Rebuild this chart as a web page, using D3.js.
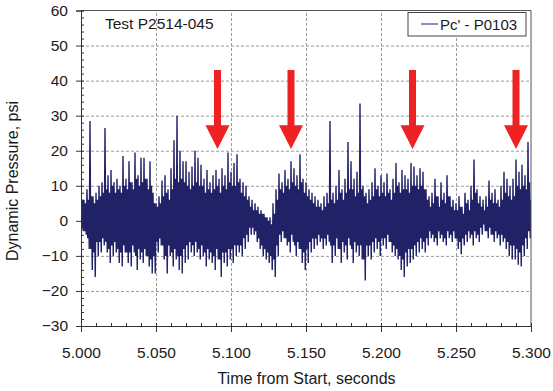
<!DOCTYPE html>
<html>
<head>
<meta charset="utf-8">
<script src="https://cdn.jsdelivr.net/npm/d3@7"></script>
<style>
body { margin: 0; background: #fff; }
text { font-family: Arial, "Liberation Sans", sans-serif; fill: #1a1a1a; }
</style>
</head>
<body>
<svg id="chart" width="553" height="391"></svg>
<script>
// one sample window every 2 ms (psi):
// peak = highest / lowest spike in the window, core = edge of the dense band
var startTime = 5.0
var sampleStep = 0.002
var peakHigh = [8, 6, 9, 28.5, 7, 8, 10,
    11, 26.5, 13, 14.5, 11, 12, 10,
    18.5, 12, 17, 11, 19.5, 13, 18, 18, 12, 17,
    8, 5, 7, 11.5, 13,
    9, 15, 23, 30, 20, 17, 17, 14, 15.5, 20, 18,
    16, 12, 14.5, 11, 13, 14.5, 12, 15, 13, 19.5, 14, 16.5, 19, 12, 11,
    10, 7, 6, 5, 4, 3, 2, 1, 1, 5,
    9, 13.5, 11, 14.5, 12, 17, 15, 13, 19,
    12, 11, 9, 8, 7, 6, 5, 7, 8, 28.5,
    8, 10, 14.5, 9, 12, 22.5, 17, 12, 14, 33.5,
    10, 8, 9, 11, 15, 10, 13, 11, 13.5, 9,
    12, 16.5, 11, 14.5, 13, 12, 16.5, 15.5, 13, 15,
    14, 9, 7, 8, 12, 7, 11, 8, 13, 7,
    6, 5, 7, 4, 8, 6, 10, 17.5, 9, 7,
    6, 7, 11.5, 8, 9, 6, 10, 14, 12, 10,
    12, 17.5, 14, 16, 13, 22.5, 6]
var peakLow = [-3, -4, -8, -14, -16, -10, -9,
    -7, -9, -12, -10, -9, -12, -13,
    -9, -12, -13, -9, -14, -11, -12, -10, -13, -15,
    -15, -9, -7, -11, -15,
    -10, -13, -11, -14, -15, -12, -11, -9, -10, -9, -11,
    -10, -13, -11, -12, -14, -11, -16, -12, -13, -11, -12, -10, -9, -10, -8,
    -6, -4, -4, -6, -8, -10, -11, -12, -14, -16,
    -10, -6, -5, -7, -9, -6, -10, -8, -12,
    -14, -12, -9, -8, -7, -6, -8, -7, -6, -12,
    -10, -8, -12, -9, -11, -7, -12, -9, -10, -11,
    -17, -10, -11, -9, -8, -10, -7, -8, -6, -9,
    -10, -11, -14, -16, -13, -12, -11, -10, -9, -8,
    -9, -7, -5, -6, -7, -5, -6, -7, -5, -6,
    -5, -8, -9.5, -7, -6, -5, -7, -5, -6, -4,
    -3, -5, -4, -6, -5, -7, -6, -8, -10, -11,
    -11, -12.5, -13, -10, -8, -5, -4]
var coreHigh = [6, 5, 6, 7, 5, 6, 7,
    8, 9, 8, 10, 8, 9, 8,
    10, 9, 11, 9, 12, 10, 11, 12, 9, 10,
    5, 4, 5, 7, 8,
    6, 9, 12, 11, 12, 11, 10, 9, 10, 11, 10,
    10, 8, 9, 8, 9, 10, 8, 10, 9, 11, 10, 10, 11, 8, 7,
    6, 4, 3, 3, 2, 2, 1, 0, -1, 2,
    6, 9, 8, 10, 9, 11, 10, 9, 11,
    8, 7, 6, 5, 4, 4, 3, 4, 5, 6,
    5, 6, 8, 6, 8, 9, 9, 7, 8, 9,
    7, 5, 6, 7, 9, 7, 8, 7, 8, 6,
    8, 10, 8, 9, 9, 8, 10, 10, 9, 10,
    9, 6, 4, 5, 7, 4, 6, 5, 7, 4,
    3, 3, 4, 2, 5, 3, 6, 8, 5, 4,
    3, 4, 6, 5, 5, 4, 6, 8, 7, 6,
    7, 10, 9, 10, 9, 11, 4]
var coreLow = [-2, -3, -5, -8, -9, -6, -6,
    -5, -6, -8, -7, -6, -8, -9,
    -7, -9, -9, -7, -10, -8, -9, -8, -10, -11,
    -10, -6, -5, -7, -10,
    -7, -9, -8, -10, -10, -8, -7, -6, -7, -6, -8,
    -7, -9, -8, -9, -10, -8, -11, -9, -9, -8, -8, -7, -7, -7, -5,
    -4, -2, -2, -3, -5, -7, -8, -9, -10, -11,
    -7, -4, -3, -5, -6, -4, -7, -6, -8,
    -9, -8, -6, -5, -5, -4, -5, -5, -4, -7,
    -7, -5, -8, -6, -7, -5, -8, -6, -7, -7,
    -11, -7, -7, -6, -5, -6, -5, -5, -4, -6,
    -7, -8, -10, -11, -9, -8, -8, -7, -6, -5,
    -6, -5, -3, -4, -5, -3, -4, -5, -3, -4,
    -3, -5, -6, -5, -4, -3, -4, -3, -4, -2,
    -1, -3, -2, -4, -3, -4, -4, -5, -6, -7,
    -7, -8, -9, -7, -5, -3, -2]

var xTicks = [5.0, 5.05, 5.1, 5.15, 5.2, 5.25, 5.3]
var yTicks = [-30, -20, -10, 0, 10, 20, 30, 40, 50, 60]

// red markers: time, top of shaft, start of head, tip (psi)
var arrowTimes = [5.091, 5.140, 5.221, 5.290]
var arrowTop = 43
var arrowHead = 27.3
var arrowTip = 20.5

var testLabel = "Test P2514-045"
var seriesName = "Pc' - P0103"

var svg = d3.select("#chart")
var plotL = 81, plotR = 531, plotT = 10.5, plotB = 326

var x = d3.scaleLinear().domain([5.0, 5.3]).range([plotL, plotR])
var y = d3.scaleLinear().domain([-30, 60]).range([plotB, plotT])

// grid
var gx = svg.append("g").attr("transform", "translate(0," + plotB + ")")
    .call(d3.axisBottom(x).tickValues(xTicks.slice(1, -1)).tickSize(-(plotB - plotT)).tickFormat(""))
var gy = svg.append("g").attr("transform", "translate(" + plotL + ",0)")
    .call(d3.axisLeft(y).tickValues(yTicks.slice(1, -1)).tickSize(-(plotR - plotL)).tickFormat(""))
gx.select(".domain").remove()
gy.select(".domain").remove()
svg.selectAll("g line").attr("stroke", "#9a9a9a").attr("stroke-dasharray", "3,2")

// signal
svg.append("clipPath").attr("id", "plotclip")
    .append("rect").attr("x", plotL).attr("y", plotT).attr("width", plotR - plotL).attr("height", plotB - plotT)

var points = []
peakHigh.forEach(function(h, i) {
    var t = startTime + i * sampleStep
    points.push({t: t, v: h})
    points.push({t: t + sampleStep * 0.25, v: coreLow[i]})
    points.push({t: t + sampleStep * 0.5, v: coreHigh[i]})
    points.push({t: t + sampleStep * 0.75, v: peakLow[i]})
})

var line = d3.line()
    .x((d) => x(d.t))
    .y((d) => y(d.v))

svg.append("path")
    .datum(points)
    .attr("clip-path", "url(#plotclip)")
    .attr("fill", "none")
    .attr("stroke", "#212168")
    .attr("stroke-width", 1.4)
    .attr("d", line)

// arrows
svg.selectAll(".arrow").data(arrowTimes).enter()
    .append("path")
    .attr("class", "arrow")
    .attr("fill", "#ee2222")
    .attr("d", (t) => {
        var cx = x(t)
        return "M" + (cx - 3.5) + "," + y(arrowTop) +
            "L" + (cx + 3.5) + "," + y(arrowTop) +
            "L" + (cx + 3.5) + "," + y(arrowHead) +
            "L" + (cx + 12) + "," + y(arrowHead) +
            "L" + cx + "," + y(arrowTip) +
            "L" + (cx - 12) + "," + y(arrowHead) +
            "L" + (cx - 3.5) + "," + y(arrowHead) + "Z"
    })

// frame
svg.append("line").attr("x1", plotL).attr("x2", plotR).attr("y1", plotT).attr("y2", plotT).attr("stroke", "#555")
svg.append("line").attr("x1", plotR).attr("x2", plotR).attr("y1", plotT).attr("y2", plotB).attr("stroke", "#555")

// axes: outward major ticks with labels, inward minor ticks
var xAxis = svg.append("g").attr("transform", "translate(0," + plotB + ")")
    .call(d3.axisBottom(x).tickValues(xTicks).tickSize(6).tickPadding(15).tickFormat(d3.format(".3f")))
var xMinor = svg.append("g").attr("transform", "translate(0," + plotB + ")")
    .call(d3.axisBottom(x).tickValues(d3.range(0, 31).map((k) => 5 + k * 0.01)).tickSize(-3).tickFormat(""))
var yAxis = svg.append("g").attr("transform", "translate(" + plotL + ",0)")
    .call(d3.axisLeft(y).tickValues(yTicks).tickSize(5).tickPadding(8))
var yMinor = svg.append("g").attr("transform", "translate(" + plotL + ",0)")
    .call(d3.axisLeft(y).tickValues(d3.range(0, 46).map((k) => -30 + k * 2)).tickSize(-3).tickFormat(""))

;[xAxis, xMinor, yAxis, yMinor].forEach((g) => {
    g.selectAll("line").attr("stroke", "#333").attr("stroke-dasharray", null)
    g.select(".domain").attr("stroke", "#333")
    g.selectAll("text").style("font-size", "15.5px").attr("fill", "#1a1a1a")
        .style("font-family", "Arial, 'Liberation Sans', sans-serif")
})

// axis titles
svg.append("text").attr("x", (plotL + plotR) / 2 + 0.5).attr("y", 384)
    .attr("text-anchor", "middle").style("font-size", "16px")
    .text("Time from Start, seconds")
svg.append("text").attr("transform", "translate(17.5,181) rotate(-90)")
    .attr("text-anchor", "middle").style("font-size", "16px")
    .text("Dynamic Pressure, psi")

// test label
svg.append("text").attr("x", 105).attr("y", 29).style("font-size", "15.5px").text(testLabel)

// legend
var legend = svg.append("g")
legend.append("rect").attr("x", 408).attr("y", 12.5).attr("width", 118).attr("height", 23.5)
    .attr("fill", "#fff").attr("stroke", "#444")
legend.append("line").attr("x1", 421).attr("x2", 438).attr("y1", 24).attr("y2", 24)
    .attr("stroke", "#6a6aaa").attr("stroke-width", 1.5)
legend.append("text").attr("x", 440).attr("y", 29.5).style("font-size", "15px").text(seriesName)
</script>
</body>
</html>
